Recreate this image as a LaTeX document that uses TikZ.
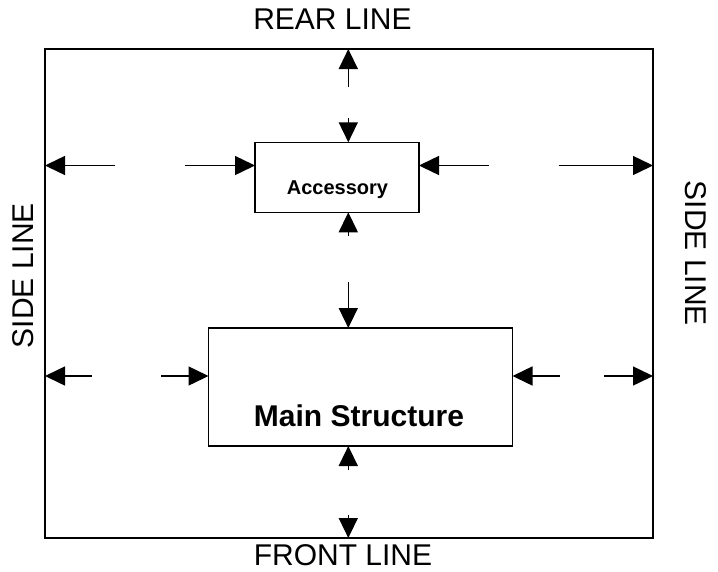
\documentclass[tikz,border=0pt]{standalone}
\usepackage{fontspec}
\setmainfont{Liberation Sans}
\usetikzlibrary{arrows.meta}

\tikzset{
  linelabel/.style={font=\fontsize{30}{36}\selectfont, inner sep=0pt, anchor=base},
  boxlabel/.style={font=\bfseries\fontsize{#1}{#1}\selectfont, inner sep=0pt, anchor=base},
  boundary/.style={draw, line width=2pt, outer sep=0pt, inner sep=0pt},
  partbox/.style={draw, line width=1.6pt, outer sep=0pt, inner sep=0pt, fill=white},
  arr/.style={line width=1.5pt, -{Triangle[length=20pt, width=19pt]}},
}

\begin{document}
\begin{tikzpicture}[x=1pt, y=-1pt]
  \useasboundingbox (0,0) rectangle (718,571);

  % site boundary and the two parts
  \node[boundary, minimum width=608pt, minimum height=489pt] (frame) at (349,293.5) {};
  \node[partbox, minimum width=164pt, minimum height=70pt] (acc) at (337,177.3) {};
  \node[partbox, minimum width=304pt, minimum height=118pt] (main) at (360.5,387) {};

  % labels
  \node[boxlabel=20] (acctext) at (337.5,194) {Accessory};
  \node[boxlabel=30] (maintext) at (359,426.5) {Main Structure};
  \node[linelabel] (rear) at (332.5,29) {REAR LINE};
  \node[linelabel] (front) at (343,565) {FRONT LINE};
  \node[linelabel, rotate=90] (sideL) at (34,275.5) {SIDE LINE};
  \node[linelabel, rotate=-90] (sideR) at (685,253.5) {SIDE LINE};

  % free ends of the clearance arrows
  \coordinate (aL1) at (115,165.5);
  \coordinate (aL2) at (184.5,165.5);
  \coordinate (aR1) at (489,165.5);
  \coordinate (aR2) at (558.5,165.5);
  \coordinate (mL1) at (91.6,376);
  \coordinate (mL2) at (161,376);
  \coordinate (mR1) at (559.5,376);
  \coordinate (mR2) at (604,376);
  \coordinate (v1) at (348.3,87);
  \coordinate (v2) at (348.3,118);
  \coordinate (v3) at (348.3,236);
  \coordinate (v4) at (348.3,281.7);
  \coordinate (v5) at (348.3,470);
  \coordinate (v6) at (348.3,515);

  % clearances beside the accessory
  \draw[arr] (aL1) -- (frame.west |- aL1);
  \draw[arr] (aL2) -- (acc.west |- aL2);
  \draw[arr] (aR1) -- (acc.east |- aR1);
  \draw[arr] (aR2) -- (frame.east |- aR2);

  % clearances beside the main structure
  \draw[arr] (mL1) -- (frame.west |- mL1);
  \draw[arr] (mL2) -- (main.west |- mL2);
  \draw[arr] (mR1) -- (main.east |- mR1);
  \draw[arr] (mR2) -- (frame.east |- mR2);

  % clearances along the centre line
  \draw[arr] (v1) -- (frame.north -| v1);
  \draw[arr] (v2) -- (acc.north -| v2);
  \draw[arr] (v3) -- (acc.south -| v3);
  \draw[arr] (v4) -- (main.north -| v4);
  \draw[arr] (v5) -- (main.south -| v5);
  \draw[arr] (v6) -- (frame.south -| v6);
\end{tikzpicture}
\end{document}
